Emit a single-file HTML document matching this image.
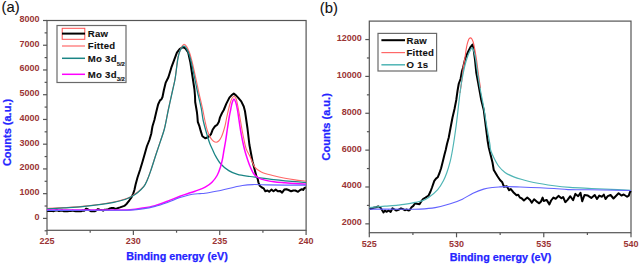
<!DOCTYPE html>
<html><head><meta charset="utf-8"><title>XPS spectra</title><style>html,body{margin:0;padding:0;background:#fff;width:639px;height:264px;overflow:hidden;}svg{display:block;}</style></head><body>
<svg width="639" height="264" viewBox="0 0 639 264">
<style>text{font-family:"Liberation Sans", sans-serif;} .tk{font-size:9px;font-weight:bold;fill:#9b3535;} .ti{font-size:10.75px;font-weight:bold;fill:#2424ff;stroke:#2424ff;stroke-width:0.25px;} .lg{font-size:9.6px;letter-spacing:0.25px;font-weight:bold;fill:#111;stroke:#111;stroke-width:0.1px;} .lab{font-size:14.8px;fill:#111;stroke:#111;stroke-width:0.1px;}</style>
<rect width="639" height="264" fill="#fff"/>
<rect x="47.0" y="20.5" width="259.1" height="209.8" fill="none" stroke="#555555" stroke-width="1.2"/>
<line x1="43.0" y1="218.40" x2="47.0" y2="218.40" stroke="#555555" stroke-width="1.2"/>
<text x="39.6" y="219.90" text-anchor="end" class="tk">0</text>
<line x1="43.0" y1="193.66" x2="47.0" y2="193.66" stroke="#555555" stroke-width="1.2"/>
<text x="39.6" y="195.16" text-anchor="end" class="tk">1000</text>
<line x1="43.0" y1="168.93" x2="47.0" y2="168.93" stroke="#555555" stroke-width="1.2"/>
<text x="39.6" y="170.43" text-anchor="end" class="tk">2000</text>
<line x1="43.0" y1="144.19" x2="47.0" y2="144.19" stroke="#555555" stroke-width="1.2"/>
<text x="39.6" y="145.69" text-anchor="end" class="tk">3000</text>
<line x1="43.0" y1="119.45" x2="47.0" y2="119.45" stroke="#555555" stroke-width="1.2"/>
<text x="39.6" y="120.95" text-anchor="end" class="tk">4000</text>
<line x1="43.0" y1="94.71" x2="47.0" y2="94.71" stroke="#555555" stroke-width="1.2"/>
<text x="39.6" y="96.21" text-anchor="end" class="tk">5000</text>
<line x1="43.0" y1="69.98" x2="47.0" y2="69.98" stroke="#555555" stroke-width="1.2"/>
<text x="39.6" y="71.48" text-anchor="end" class="tk">6000</text>
<line x1="43.0" y1="45.24" x2="47.0" y2="45.24" stroke="#555555" stroke-width="1.2"/>
<text x="39.6" y="46.74" text-anchor="end" class="tk">7000</text>
<line x1="43.0" y1="20.50" x2="47.0" y2="20.50" stroke="#555555" stroke-width="1.2"/>
<text x="39.6" y="22.00" text-anchor="end" class="tk">8000</text>
<line x1="44.6" y1="230.77" x2="47.0" y2="230.77" stroke="#555555" stroke-width="1.2"/>
<line x1="44.6" y1="206.03" x2="47.0" y2="206.03" stroke="#555555" stroke-width="1.2"/>
<line x1="44.6" y1="181.29" x2="47.0" y2="181.29" stroke="#555555" stroke-width="1.2"/>
<line x1="44.6" y1="156.56" x2="47.0" y2="156.56" stroke="#555555" stroke-width="1.2"/>
<line x1="44.6" y1="131.82" x2="47.0" y2="131.82" stroke="#555555" stroke-width="1.2"/>
<line x1="44.6" y1="107.08" x2="47.0" y2="107.08" stroke="#555555" stroke-width="1.2"/>
<line x1="44.6" y1="82.34" x2="47.0" y2="82.34" stroke="#555555" stroke-width="1.2"/>
<line x1="44.6" y1="57.61" x2="47.0" y2="57.61" stroke="#555555" stroke-width="1.2"/>
<line x1="44.6" y1="32.87" x2="47.0" y2="32.87" stroke="#555555" stroke-width="1.2"/>
<line x1="47.00" y1="230.3" x2="47.00" y2="234.9" stroke="#555555" stroke-width="1.2"/>
<text x="47.00" y="244.4" text-anchor="middle" class="tk">225</text>
<line x1="133.37" y1="230.3" x2="133.37" y2="234.9" stroke="#555555" stroke-width="1.2"/>
<text x="133.37" y="244.4" text-anchor="middle" class="tk">230</text>
<line x1="219.73" y1="230.3" x2="219.73" y2="234.9" stroke="#555555" stroke-width="1.2"/>
<text x="219.73" y="244.4" text-anchor="middle" class="tk">235</text>
<line x1="306.10" y1="230.3" x2="306.10" y2="234.9" stroke="#555555" stroke-width="1.2"/>
<text x="306.10" y="244.4" text-anchor="middle" class="tk">240</text>
<line x1="90.18" y1="230.3" x2="90.18" y2="232.70000000000002" stroke="#555555" stroke-width="1.2"/>
<line x1="176.55" y1="230.3" x2="176.55" y2="232.70000000000002" stroke="#555555" stroke-width="1.2"/>
<line x1="262.92" y1="230.3" x2="262.92" y2="232.70000000000002" stroke="#555555" stroke-width="1.2"/>
<text x="1.5" y="12.2" class="lab">(a)</text>
<text transform="translate(11.3,132.5) rotate(-90)" text-anchor="middle" class="ti" style="font-size:11px">Counts (a.u.)</text>
<text x="177" y="259.9" text-anchor="middle" class="ti">Binding energy (eV)</text>
<path d="M47.00,210.71 L48.70,210.94 L50.40,210.83 L52.10,211.04 L53.80,211.14 L55.50,210.55 L57.20,210.29 L58.90,211.10 L60.60,210.74 L62.30,210.58 L64.00,211.36 L65.70,211.06 L67.40,211.35 L69.10,211.05 L70.80,211.12 L72.50,210.61 L74.20,210.96 L75.90,211.33 L77.60,211.08 L79.30,211.23 L81.00,211.22 L82.70,210.55 L84.40,210.69 L86.10,208.60 L87.80,209.24 L89.50,210.35 L91.20,211.25 L92.90,211.11 L94.60,211.35 L96.30,210.36 L98.00,209.12 L99.70,209.77 L101.40,209.93 L103.10,210.63 L104.80,209.73 L106.50,209.58 L108.20,209.38 L109.90,208.39 L111.60,207.97 L113.30,207.92 L115.00,208.74 L116.70,208.45 L120.00,207.40 L122.20,206.60 L124.30,205.90 L126.80,203.70 L129.40,200.30 L131.60,197.10 L133.20,193.60 L134.40,190.00 L135.60,184.50 L137.50,177.50 L140.00,170.00 L142.50,161.80 L145.00,153.00 L146.90,146.25 L148.20,143.00 L149.40,140.00 L151.25,133.75 L152.00,129.00 L152.50,126.25 L154.40,120.00 L156.25,112.00 L158.10,104.50 L160.00,100.40 L161.50,99.20 L162.50,97.00 L163.90,90.00 L165.60,82.90 L168.40,77.20 L171.30,67.70 L174.10,60.20 L176.90,52.60 L179.80,48.80 L183.10,47.20 L185.60,48.60 L188.20,52.50 L190.40,62.50 L192.50,76.50 L194.40,89.00 L195.00,96.00 L195.20,102.00 L196.90,112.00 L197.30,115.50 L197.80,121.80 L199.50,126.40 L200.70,130.90 L202.40,136.30 L205.20,138.30 L208.10,137.20 L210.90,134.30 L212.60,129.80 L214.90,126.40 L217.20,124.70 L218.90,121.80 L220.00,117.30 L222.00,113.00 L223.75,110.00 L226.25,103.90 L229.40,97.60 L231.50,95.30 L233.75,93.60 L236.00,95.40 L238.10,97.60 L241.25,101.40 L243.75,106.50 L245.00,111.25 L245.70,116.00 L247.50,128.50 L249.40,144.75 L252.50,161.25 L255.00,171.00 L256.40,176.30 L257.60,178.50 L258.40,182.30 L259.70,185.70 L261.90,187.50 L263.60,188.30 L265.30,191.30 L267.50,190.50 L269.20,191.80 L271.40,189.60 L273.50,191.30 L275.70,189.60 L277.80,191.30 L280.00,190.90 L282.10,192.60 L284.30,189.60 L286.40,189.20 L288.60,190.00 L291.10,191.30 L293.30,190.50 L295.40,190.50 L298.00,191.80 L300.20,190.00 L301.90,189.20 L303.20,190.00 L304.50,187.90 L305.80,187.50" fill="none" stroke="#000" stroke-width="2.0" stroke-linejoin="round"/>
<path d="M47.00,208.50 C58.83,207.80 71.07,207.54 82.50,206.40 C93.27,205.32 104.91,204.02 113.75,202.00 C120.50,200.46 126.12,199.15 131.25,196.40 C136.03,193.83 140.99,189.75 143.75,186.40 C145.71,184.01 146.31,181.90 147.50,179.20 C148.92,175.96 150.16,172.10 151.50,168.20 C153.00,163.83 154.49,158.78 156.00,154.20 C157.46,149.76 158.98,145.41 160.40,141.10 C161.78,136.91 163.19,133.28 164.40,128.70 C165.85,123.18 166.86,116.52 168.20,110.20 C169.62,103.54 171.44,95.49 172.70,89.70 C173.63,85.44 174.33,82.94 175.10,78.60 C176.17,72.56 176.94,61.92 178.10,56.80 C178.75,53.93 179.42,52.14 180.20,50.20 C180.85,48.59 181.52,46.96 182.30,45.90 C182.86,45.14 183.45,44.21 184.10,44.20 C184.84,44.19 185.75,45.32 186.50,46.30 C187.58,47.71 188.55,50.03 189.40,52.25 C190.40,54.85 191.01,57.50 191.90,61.00 C193.22,66.15 195.01,74.62 196.25,80.25 C197.21,84.64 197.81,87.77 198.75,92.00 C199.85,96.98 201.41,103.15 202.50,108.25 C203.46,112.75 204.11,117.02 205.00,121.00 C205.79,124.55 206.47,128.02 207.50,131.00 C208.39,133.56 209.43,136.09 210.60,137.90 C211.49,139.28 212.45,140.47 213.50,141.20 C214.36,141.80 215.37,142.30 216.25,142.25 C217.10,142.20 217.95,141.66 218.70,141.00 C219.66,140.15 220.43,138.91 221.25,137.25 C222.58,134.57 224.07,129.51 225.00,126.00 C225.80,122.99 226.11,120.29 226.70,117.50 C227.28,114.79 227.91,111.94 228.50,109.50 C229.00,107.42 229.41,105.63 230.00,103.75 C230.58,101.89 231.16,99.61 232.00,98.30 C232.58,97.39 233.34,96.28 234.00,96.30 C234.68,96.32 235.46,97.50 236.00,98.50 C236.77,99.94 236.99,102.19 237.50,104.50 C238.18,107.61 238.86,111.45 239.60,115.50 C240.51,120.50 241.63,127.65 242.50,132.25 C243.11,135.49 243.58,137.73 244.20,140.50 C244.83,143.32 245.27,146.31 246.25,149.00 C247.21,151.64 248.68,153.76 250.00,156.50 C251.57,159.76 252.83,164.62 255.00,167.30 C256.76,169.47 258.67,170.69 261.25,172.00 C264.59,173.69 269.67,174.69 273.75,175.75 C277.58,176.75 281.35,177.54 285.00,178.25 C288.42,178.91 291.58,179.41 295.00,179.90 C298.57,180.41 302.33,180.80 306.00,181.25" fill="none" stroke="#ff6868" stroke-width="1.1"/>
<path d="M47.00,208.80 C52.58,208.50 58.01,208.24 63.75,207.90 C69.82,207.54 76.26,207.28 82.50,206.70 C88.76,206.12 95.64,205.21 101.25,204.40 C105.85,203.73 109.71,203.14 113.75,202.30 C117.61,201.50 121.84,200.59 125.00,199.50 C127.43,198.66 129.21,197.80 131.25,196.70 C133.38,195.55 135.49,194.28 137.50,192.70 C139.67,190.99 142.07,188.94 143.75,186.70 C145.38,184.53 146.31,182.20 147.50,179.50 C148.92,176.26 150.16,172.40 151.50,168.50 C153.00,164.13 154.49,159.08 156.00,154.50 C157.46,150.06 158.98,145.71 160.40,141.40 C161.78,137.21 163.19,133.58 164.40,129.00 C165.85,123.48 166.86,116.82 168.20,110.50 C169.62,103.84 171.44,95.78 172.70,90.00 C173.63,85.77 174.42,82.87 175.10,79.00 C175.85,74.74 176.35,69.41 176.90,65.50 C177.33,62.48 177.54,60.05 178.10,57.50 C178.63,55.10 179.30,52.46 180.10,50.60 C180.69,49.22 181.32,47.94 182.10,47.20 C182.67,46.65 183.38,46.14 184.00,46.20 C184.68,46.26 185.37,47.00 186.00,47.80 C187.00,49.05 187.93,51.36 188.75,53.50 C189.73,56.07 190.48,59.21 191.25,62.25 C192.08,65.52 192.77,69.08 193.50,72.50 C194.22,75.91 194.92,79.42 195.60,82.75 C196.25,85.91 196.73,88.49 197.50,92.00 C198.52,96.66 200.28,103.26 201.25,108.25 C202.07,112.47 202.27,116.01 203.10,120.00 C203.99,124.25 205.31,128.89 206.50,133.00 C207.59,136.77 208.75,140.75 209.90,143.75 C210.76,145.99 211.64,147.61 212.50,149.50 C213.34,151.35 213.91,153.00 215.00,155.00 C216.43,157.63 218.33,161.16 220.60,163.75 C222.90,166.37 225.85,168.80 228.75,170.60 C231.50,172.30 234.26,173.44 237.50,174.40 C241.24,175.51 246.36,175.95 250.00,176.50 C252.81,176.92 254.52,177.11 257.50,177.50 C261.88,178.08 268.83,179.02 273.75,179.60 C277.84,180.08 280.67,180.38 285.00,180.80 C290.91,181.37 299.00,182.00 306.00,182.60" fill="none" stroke="#1a8585" stroke-width="1.25"/>
<path d="M47.00,210.10 C64.67,210.10 84.83,210.19 100.00,210.10 C111.41,210.03 122.17,210.31 130.00,209.75 C135.08,209.39 138.34,208.79 142.50,208.10 C146.68,207.41 150.87,206.73 155.00,205.60 C159.21,204.45 163.35,202.80 167.50,201.25 C171.68,199.69 176.35,197.60 180.00,196.25 C182.80,195.21 185.00,194.54 187.50,193.70 C190.00,192.86 192.32,192.17 195.00,191.20 C198.15,190.06 202.24,188.83 205.20,187.20 C207.80,185.77 210.02,184.15 212.00,182.20 C213.98,180.25 215.70,177.97 217.10,175.50 C218.56,172.92 219.62,169.70 220.50,167.00 C221.27,164.63 221.71,162.71 222.25,160.20 C222.90,157.16 223.42,153.29 224.00,150.00 C224.54,146.91 225.07,144.28 225.60,141.00 C226.24,137.07 226.85,132.24 227.50,128.00 C228.12,123.92 228.81,119.31 229.40,116.00 C229.82,113.65 230.16,112.11 230.60,110.00 C231.09,107.64 231.50,104.51 232.20,102.50 C232.71,101.04 233.40,98.90 234.00,98.90 C234.60,98.90 235.28,101.04 235.80,102.50 C236.52,104.51 237.05,107.63 237.50,110.00 C237.90,112.10 238.04,113.58 238.40,116.00 C238.95,119.69 239.76,125.68 240.50,130.00 C241.14,133.76 241.81,137.19 242.50,140.50 C243.12,143.49 243.73,146.37 244.40,149.00 C244.99,151.32 245.48,153.07 246.25,155.50 C247.25,158.65 248.64,163.03 250.00,166.25 C251.17,169.02 252.44,171.94 253.75,173.75 C254.64,174.99 255.39,175.67 256.50,176.50 C257.81,177.48 259.22,178.35 261.25,179.10 C264.37,180.25 269.68,181.08 273.75,181.70 C277.58,182.28 280.67,182.43 285.00,182.80 C290.91,183.30 299.00,183.80 306.00,184.30" fill="none" stroke="#ff00ff" stroke-width="1.5"/>
<path d="M47.00,210.40 C64.67,210.37 84.83,210.36 100.00,210.30 C111.41,210.25 122.16,210.50 130.00,210.10 C135.07,209.84 138.35,209.51 142.50,208.90 C146.68,208.28 150.86,207.47 155.00,206.40 C159.20,205.31 163.35,203.86 167.50,202.40 C171.69,200.93 175.80,198.97 180.00,197.60 C184.13,196.25 188.84,194.84 192.50,194.20 C195.29,193.71 197.75,193.76 200.00,193.60 C201.83,193.47 202.97,193.55 205.00,193.30 C208.24,192.91 212.99,191.93 217.50,191.00 C222.85,189.90 230.38,187.99 235.00,187.00 C238.02,186.35 239.81,185.89 242.50,185.50 C245.58,185.05 248.83,184.73 252.50,184.60 C256.99,184.44 262.31,184.82 267.50,184.90 C273.11,184.99 278.90,185.07 285.00,185.10 C291.68,185.14 299.00,185.10 306.00,185.10" fill="none" stroke="#6262ff" stroke-width="1.1"/>
<rect x="57" y="25.5" width="69" height="57" fill="#fff" stroke="#6a6a6a" stroke-width="1.2"/>
<rect x="62.2" y="28.3" width="22.6" height="11" fill="none" stroke="#ff5050" stroke-width="1"/>
<line x1="62" y1="33.6" x2="85" y2="33.6" stroke="#000" stroke-width="2"/>
<line x1="62" y1="46" x2="85" y2="46" stroke="#ff6868" stroke-width="1.2"/>
<line x1="62" y1="58.3" x2="85" y2="58.3" stroke="#1a8585" stroke-width="1.5"/>
<line x1="62" y1="74.3" x2="85" y2="74.3" stroke="#ff00ff" stroke-width="1.5"/>
<text x="87.8" y="36.9" class="lg">Raw</text>
<text x="87.8" y="49.3" class="lg">Fitted</text>
<text x="87.8" y="62.3" class="lg">Mo 3d<tspan dy="3.4" font-size="6px" letter-spacing="-0.1">5/2</tspan></text>
<text x="87.8" y="78.0" class="lg">Mo 3d<tspan dy="3.4" font-size="6px" letter-spacing="-0.1">3/2</tspan></text>
<rect x="369.3" y="21.1" width="261.7" height="211.6" fill="none" stroke="#555555" stroke-width="1.2"/>
<line x1="365.3" y1="223.85" x2="369.3" y2="223.85" stroke="#555555" stroke-width="1.2"/>
<text x="361.8" y="225.35" text-anchor="end" class="tk">2000</text>
<line x1="365.3" y1="186.99" x2="369.3" y2="186.99" stroke="#555555" stroke-width="1.2"/>
<text x="361.8" y="188.49" text-anchor="end" class="tk">4000</text>
<line x1="365.3" y1="150.13" x2="369.3" y2="150.13" stroke="#555555" stroke-width="1.2"/>
<text x="361.8" y="151.63" text-anchor="end" class="tk">6000</text>
<line x1="365.3" y1="113.27" x2="369.3" y2="113.27" stroke="#555555" stroke-width="1.2"/>
<text x="361.8" y="114.77" text-anchor="end" class="tk">8000</text>
<line x1="365.3" y1="76.41" x2="369.3" y2="76.41" stroke="#555555" stroke-width="1.2"/>
<text x="361.8" y="77.91" text-anchor="end" class="tk">10000</text>
<line x1="365.3" y1="39.55" x2="369.3" y2="39.55" stroke="#555555" stroke-width="1.2"/>
<text x="361.8" y="41.05" text-anchor="end" class="tk">12000</text>
<line x1="366.90000000000003" y1="205.42" x2="369.3" y2="205.42" stroke="#555555" stroke-width="1.2"/>
<line x1="366.90000000000003" y1="168.56" x2="369.3" y2="168.56" stroke="#555555" stroke-width="1.2"/>
<line x1="366.90000000000003" y1="131.70" x2="369.3" y2="131.70" stroke="#555555" stroke-width="1.2"/>
<line x1="366.90000000000003" y1="94.84" x2="369.3" y2="94.84" stroke="#555555" stroke-width="1.2"/>
<line x1="366.90000000000003" y1="57.98" x2="369.3" y2="57.98" stroke="#555555" stroke-width="1.2"/>
<line x1="369.30" y1="232.7" x2="369.30" y2="237.29999999999998" stroke="#555555" stroke-width="1.2"/>
<text x="369.30" y="246.8" text-anchor="middle" class="tk">525</text>
<line x1="456.53" y1="232.7" x2="456.53" y2="237.29999999999998" stroke="#555555" stroke-width="1.2"/>
<text x="456.53" y="246.8" text-anchor="middle" class="tk">530</text>
<line x1="543.77" y1="232.7" x2="543.77" y2="237.29999999999998" stroke="#555555" stroke-width="1.2"/>
<text x="543.77" y="246.8" text-anchor="middle" class="tk">535</text>
<line x1="631.00" y1="232.7" x2="631.00" y2="237.29999999999998" stroke="#555555" stroke-width="1.2"/>
<text x="631.00" y="246.8" text-anchor="middle" class="tk">540</text>
<line x1="412.92" y1="232.7" x2="412.92" y2="235.1" stroke="#555555" stroke-width="1.2"/>
<line x1="500.15" y1="232.7" x2="500.15" y2="235.1" stroke="#555555" stroke-width="1.2"/>
<line x1="587.38" y1="232.7" x2="587.38" y2="235.1" stroke="#555555" stroke-width="1.2"/>
<text x="319.8" y="12.5" class="lab">(b)</text>
<text transform="translate(329.8,126.8) rotate(-90)" text-anchor="middle" class="ti" style="font-size:11px">Counts (a.u.)</text>
<text x="500.5" y="261.2" text-anchor="middle" class="ti">Binding energy (eV)</text>
<path d="M369.80,209.20 L371.50,208.50 L373.60,207.80 L376.00,207.30 L378.30,206.40 L380.20,207.30 L382.00,210.00 L383.50,212.50 L385.00,210.60 L386.50,211.80 L388.50,210.50 L390.60,212.00 L392.50,208.30 L394.50,209.50 L396.30,210.60 L398.50,209.80 L401.00,208.30 L403.00,209.20 L404.80,210.20 L406.80,209.50 L408.20,210.40 L409.60,210.20 L411.50,207.30 L413.30,205.90 L415.20,203.20 L417.00,203.80 L419.50,204.30 L421.20,201.50 L423.00,199.00 L425.50,197.60 L428.60,195.50 L430.50,191.50 L432.00,187.50 L434.30,180.90 L436.00,178.60 L437.70,177.30 L439.50,173.00 L441.10,168.20 L442.80,161.50 L444.50,154.50 L445.70,150.00 L447.00,144.00 L448.75,137.50 L450.50,128.00 L452.50,117.50 L454.50,109.00 L456.25,100.00 L457.50,91.00 L458.75,83.75 L460.60,78.75 L462.00,71.00 L463.10,67.50 L465.10,59.00 L467.90,52.10 L470.30,47.40 L472.50,44.50 L473.60,49.30 L475.00,59.70 L476.25,72.50 L478.10,82.50 L480.00,93.00 L481.25,100.00 L483.75,110.00 L485.00,120.00 L486.25,130.00 L487.50,140.00 L488.75,147.50 L491.25,157.50 L492.50,162.50 L493.75,170.00 L497.50,176.25 L500.00,180.00 L502.30,182.30 L504.00,186.80 L506.80,186.25 L509.10,190.20 L510.80,189.10 L513.60,192.50 L516.50,195.30 L518.20,194.80 L519.90,197.60 L521.60,198.20 L523.90,200.50 L527.30,197.60 L530.10,199.90 L531.80,202.70 L534.10,199.30 L537.50,202.20 L539.20,203.30 L541.00,201.50 L542.60,197.60 L543.75,201.00 L546.60,199.90 L549.40,204.40 L551.10,200.50 L553.40,197.60 L555.70,198.75 L558.50,195.90 L561.40,198.20 L563.10,197.00 L565.30,202.20 L567.60,199.90 L570.30,196.20 L573.10,200.20 L575.40,193.90 L578.20,196.20 L580.50,192.80 L582.20,201.30 L584.50,195.00 L587.90,195.60 L591.30,197.90 L594.70,195.00 L597.00,199.00 L599.25,195.60 L602.00,196.75 L603.80,194.50 L605.50,199.00 L607.80,196.20 L610.60,195.00 L613.50,198.50 L615.70,196.20 L618.60,193.30 L621.40,195.60 L623.70,194.50 L627.10,196.75 L628.80,195.60 L629.90,192.20 L631.00,191.00" fill="none" stroke="#000" stroke-width="2.0" stroke-linejoin="round"/>
<path d="M460.00,93.00 C460.63,88.67 461.36,84.25 461.90,80.00 C462.42,75.92 462.68,71.74 463.20,68.00 C463.66,64.70 464.28,61.95 464.80,58.70 C465.38,55.12 465.88,50.52 466.50,47.40 C466.94,45.17 467.37,43.28 467.90,41.70 C468.30,40.52 468.65,39.34 469.20,38.70 C469.58,38.26 470.07,37.89 470.50,37.90 C470.94,37.91 471.42,38.34 471.80,38.80 C472.34,39.45 472.70,40.51 473.10,41.70 C473.68,43.43 474.11,45.79 474.60,48.30 C475.24,51.58 475.89,55.62 476.50,59.70 C477.20,64.42 477.80,70.11 478.50,75.00 C479.14,79.51 479.83,83.67 480.50,88.00" fill="none" stroke="#ff5a5a" stroke-width="1.1"/>
<path d="M369.50,207.50 C374.67,207.07 380.06,206.62 385.00,206.20 C389.52,205.82 394.50,205.45 398.00,205.10 C400.38,204.86 401.70,204.74 404.00,204.40 C407.16,203.93 411.94,203.05 415.20,202.40 C417.75,201.89 419.80,201.71 422.00,200.90 C424.28,200.06 426.31,198.96 428.60,197.40 C431.50,195.43 435.19,192.49 437.70,189.60 C440.06,186.89 441.84,183.65 443.40,180.70 C444.81,178.02 445.74,175.63 446.80,172.70 C448.03,169.29 449.25,165.20 450.20,161.40 C451.15,157.63 451.70,154.55 452.50,150.00 C453.68,143.29 455.07,133.86 456.25,125.00 C457.59,115.00 458.91,101.30 460.00,93.00 C460.70,87.70 461.16,84.28 461.90,80.00 C462.63,75.78 463.54,71.17 464.40,67.50 C465.08,64.58 465.67,62.26 466.50,59.70 C467.33,57.13 468.32,54.23 469.40,52.10 C470.26,50.41 471.40,47.73 472.20,47.80 C473.00,47.87 473.65,50.78 474.20,52.50 C474.82,54.46 475.14,56.45 475.60,59.00 C476.25,62.58 476.81,67.44 477.50,72.00 C478.26,77.06 479.03,82.41 480.00,88.00 C481.08,94.19 482.59,100.91 483.75,107.50 C484.93,114.24 485.91,121.49 487.00,128.00 C487.99,133.94 489.41,141.01 490.00,145.00 C490.32,147.16 490.12,148.20 490.60,150.00 C491.20,152.29 492.49,154.94 493.75,157.50 C495.15,160.35 496.80,163.69 498.75,166.25 C500.58,168.65 502.58,170.75 505.00,172.50 C507.55,174.34 510.68,175.66 513.75,176.90 C516.92,178.18 520.40,179.06 523.75,180.00 C527.07,180.93 529.81,181.69 533.75,182.50 C539.30,183.64 547.64,184.91 554.00,185.75 C559.64,186.49 564.27,186.96 570.00,187.40 C576.63,187.91 583.25,188.10 591.50,188.50 C602.68,189.04 617.83,189.70 631.00,190.30" fill="none" stroke="#4fb5b5" stroke-width="1.2"/>
<path d="M369.50,209.10 C383.00,209.13 401.04,209.23 410.00,209.20 C414.45,209.18 416.32,209.30 420.00,209.10 C424.54,208.85 430.17,208.48 435.20,207.60 C440.27,206.72 445.59,205.28 450.30,203.80 C454.60,202.45 458.57,201.00 462.40,199.20 C466.12,197.45 469.40,194.90 473.00,193.20 C476.47,191.56 480.16,190.06 483.60,189.10 C486.71,188.24 489.83,187.87 492.70,187.50 C495.26,187.17 497.68,187.05 500.00,186.90 C502.10,186.76 503.58,186.63 506.00,186.60 C509.69,186.56 514.32,186.79 520.00,187.00 C528.86,187.32 545.14,187.96 554.00,188.50 C559.69,188.85 562.80,189.38 568.00,189.60 C574.50,189.87 581.53,189.60 590.00,189.70 C601.56,189.84 617.33,190.23 631.00,190.50" fill="none" stroke="#6262ff" stroke-width="1.1"/>
<rect x="378" y="33.4" width="58.6" height="37.6" fill="#fff" stroke="#6a6a6a" stroke-width="1.2"/>
<line x1="381.4" y1="40.2" x2="405" y2="40.2" stroke="#000" stroke-width="2"/>
<line x1="381.4" y1="52.6" x2="405" y2="52.6" stroke="#ff6868" stroke-width="1.2"/>
<line x1="381.4" y1="64.8" x2="405" y2="64.8" stroke="#4fb5b5" stroke-width="1.5"/>
<text x="406.5" y="43.5" class="lg">Raw</text>
<text x="406.5" y="56.2" class="lg">Fitted</text>
<text x="406.5" y="68.4" class="lg">O 1s</text>
</svg>
</body></html>
